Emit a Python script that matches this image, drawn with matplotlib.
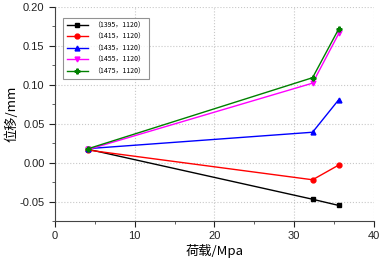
import matplotlib
matplotlib.use("Agg")
import matplotlib.pyplot as plt
from matplotlib.ticker import MultipleLocator

plt.rcParams['font.family'] = ['Liberation Sans', 'Noto Sans CJK SC', 'DejaVu Sans']

load = [4.2, 32.3, 35.6]
labels = ["（1395，1120）", "（1415，1120）", "（1435，1120）", "（1455，1120）", "（1475，1120）"]
s1395 = [0.017, -0.047, -0.055]
s1415 = [0.016, -0.022, -0.003]
s1435 = [0.018, 0.039, 0.081]
s1455 = [0.017, 0.102, 0.166]
s1475 = [0.018, 0.109, 0.172]
series = [s1395, s1415, s1435, s1455, s1475]
colors = ['black', 'red', 'blue', 'magenta', 'green']
markers = ['s', 'o', '^', 'v', 'P']

fig = plt.figure(figsize=(3.82, 2.61), dpi=100)
ax = fig.add_axes([0.144, 0.153, 0.835, 0.821])
for s, c, m, lab in zip(series, colors, markers, labels):
    ax.plot(load, s, color=c, marker=m, markersize=3.5, linewidth=1, label=lab)

ax.set_xlim(0, 40)
ax.set_ylim(-0.075, 0.20)
ax.xaxis.set_major_locator(MultipleLocator(10))
ax.xaxis.set_minor_locator(MultipleLocator(5))
ax.yaxis.set_major_locator(MultipleLocator(0.05))
ax.yaxis.set_minor_locator(MultipleLocator(0.025))
ax.yaxis.set_major_formatter(matplotlib.ticker.FormatStrFormatter('%.2f'))
ax.grid(True, which='major', color='#c8c8c8', linestyle=':', linewidth=0.8)
for sp in ['top', 'right']:
    ax.spines[sp].set_visible(False)
for sp in ['left', 'bottom']:
    ax.spines[sp].set_color('#444444')
ax.tick_params(which='major', direction='out', length=4, labelsize=8, colors='#222222')
ax.tick_params(which='minor', direction='out', length=2, colors='#444444')
ax.set_xlabel("荷载/Mpa", fontsize=9.5, family=['Noto Sans CJK SC'], labelpad=2)
ax.set_ylabel("位移/mm", fontsize=9.5, family=['Noto Sans CJK SC'], labelpad=1)
leg = ax.legend(loc='upper left', bbox_to_anchor=(0.015, 0.965),
                prop={'family': ['Noto Sans CJK SC'], 'size': 5},
                frameon=True, fancybox=False, edgecolor='#777777', handlelength=3,
                labelspacing=0.5, borderpad=0.5)
leg.get_frame().set_linewidth(0.8)
fig.savefig("out.png", dpi=100)
